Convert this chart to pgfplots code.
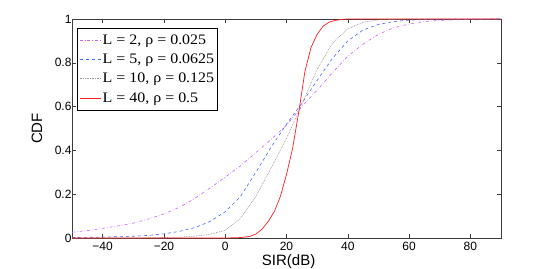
\documentclass[border=0pt]{standalone}
\usepackage{fontspec}
\setmainfont{Liberation Sans}
\newfontfamily\legfont{Liberation Serif}[FakeStretch=1.1]
\usepackage{pgfplots}
\pgfplotsset{compat=1.18}
\definecolor{cpurple}{RGB}{200,100,255}
\definecolor{cblue}{RGB}{70,100,255}
\definecolor{cgray}{RGB}{150,150,150}
\definecolor{cred}{RGB}{255,30,30}
\definecolor{caxis}{RGB}{60,60,60}
\begin{document}
\begin{tikzpicture}
\path[use as bounding box] (0,0) rectangle (554pt,268pt);
\begin{axis}[
  at={(72pt,30pt)}, anchor=south west,
  scale only axis, width=429pt, height=219pt,
  xmin=-50, xmax=90, ymin=0, ymax=1,
  xtick={-40,-20,0,20,40,60,80},
  xticklabels={−40,−20,0,20,40,60,80},
  ytick={0,0.2,0.4,0.6,0.8,1},
  yticklabels={0,0.2,0.4,0.6,0.8,1},
  tick align=inside, major tick length=4pt,
  tick style={caxis, line width=0.5pt},
  axis line style={caxis, line width=0.7pt},
  ticklabel style={font=\fontsize{12}{14}\selectfont, text=black},
  xticklabel style={yshift=-1pt},
  yticklabel style={xshift=3pt},
  xlabel={SIR(dB)}, ylabel={CDF},
  label style={font=\fontsize{15}{17}\selectfont},
  xlabel style={at={(axis description cs:0.505,-0.11)}, anchor=center},
  ylabel style={at={(axis description cs:-0.0816,0.5)}, anchor=center},
  legend cell align=left,
  legend image code/.code={\draw[#1] (0pt,0pt) -- (21pt,0pt);},
  legend style={at={(0.012,0.958)}, anchor=north west, line width=0.5pt,
    font=\legfont\fontsize{14.5}{17}\selectfont, row sep=4pt, inner xsep=2pt, inner ysep=4.5pt,
    nodes={inner xsep=1.5pt}},
  every axis legend/.append style={draw=black},
  legend image post style={line width=0.8pt},
]
\addplot[color=cpurple, draw=cpurple, line width=0.6pt, dash dot] table {
-50 0.026
-45 0.034
-40 0.044
-35 0.055
-30 0.068
-25 0.087
-20 0.11
-15 0.14
-10 0.18
-5 0.228
0 0.278
5 0.33
10 0.39
15 0.45
20 0.515
25 0.60
30 0.675
35 0.755
40 0.83
45 0.885
50 0.93
55 0.96
60 0.977
65 0.988
70 0.994
80 0.998
90 1.0
};
\addlegendentry{L = 2, ρ = 0.025}
\addplot[color=cblue, draw=cblue, line width=0.6pt, dashed] table {
-50 0.002
-40 0.004
-30 0.008
-25 0.012
-20 0.019
-15 0.03
-10 0.047
-5 0.075
0 0.12
5 0.19
10 0.30
15 0.415
20 0.52
25 0.615
30 0.72
35 0.82
40 0.90
45 0.95
50 0.975
55 0.988
60 0.995
70 0.999
90 1
};
\addlegendentry{L = 5, ρ = 0.0625}
\addplot[color=cgray, draw=cgray, line width=0.7pt, densely dotted] table {
-50 0
-30 0.0
-20 0.002
-15 0.004
-10 0.008
-5 0.017
0 0.035
5 0.09
10 0.19
15 0.32
20 0.455
25 0.61
30 0.77
35 0.89
40 0.955
45 0.985
50 0.996
60 1
90 1
};
\addlegendentry{L = 10, ρ = 0.125}
\addplot[color=cred, draw=cred, line width=0.7pt] table {
-50 0
0 0
5 0.002
8 0.007
10 0.018
12 0.04
14 0.075
16 0.12
18 0.19
20 0.29
22 0.41
24 0.575
26 0.76
28 0.87
30 0.93
32 0.968
34 0.986
36 0.994
38 0.998
40 1
90 1
};
\addlegendentry{L = 40, ρ = 0.5}
\end{axis}
\end{tikzpicture}
\end{document}
